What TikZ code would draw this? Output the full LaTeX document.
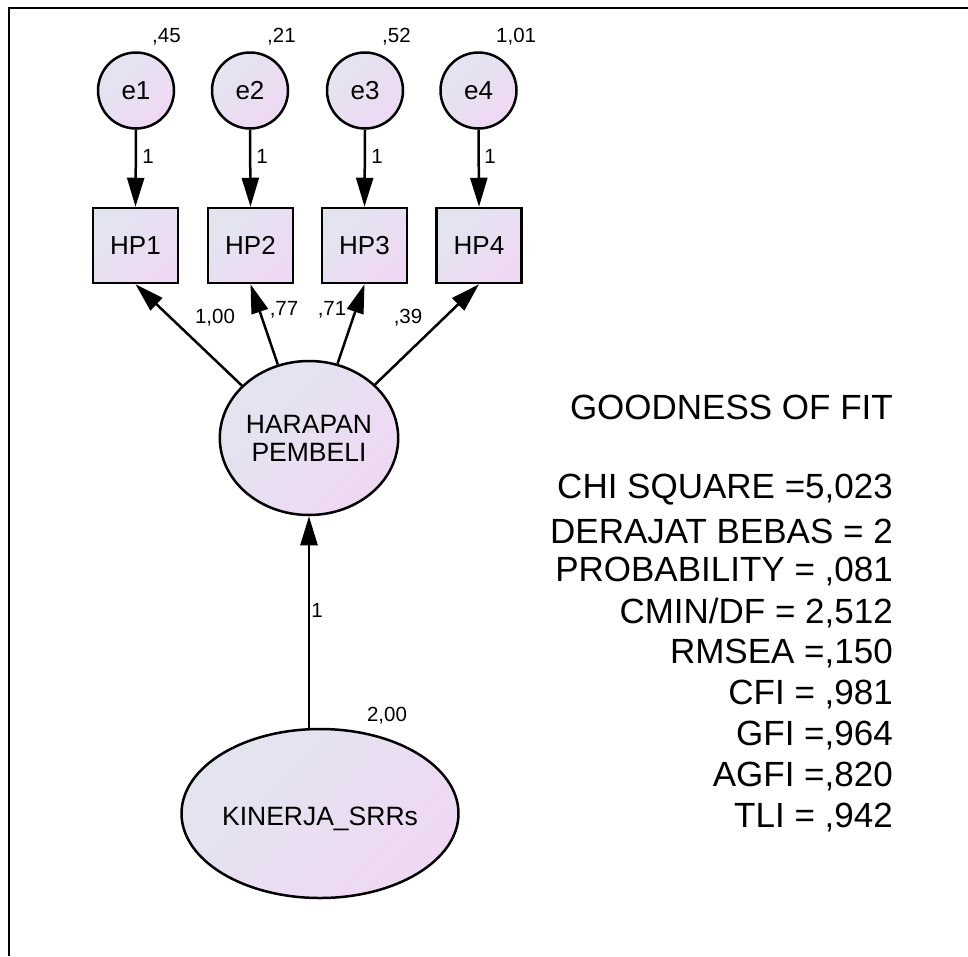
\documentclass[tikz,border=0pt]{standalone}
\usepackage{fontspec}
\setmainfont{Liberation Sans}
\usetikzlibrary{arrows.meta,shapes.geometric}
\definecolor{shadeA}{RGB}{226,229,240}
\definecolor{shadeB}{RGB}{239,216,243}
\tikzset{
  shaded/.style={top color=shadeA, bottom color=shadeB, shading angle=45, draw=black, line width=2.5pt},
  errnode/.style={shaded, circle, minimum size=76pt, inner sep=0pt, font=\fontsize{26}{30}\selectfont},
  obsnode/.style={shaded, rectangle, minimum width=85pt, minimum height=75pt, inner sep=0pt, font=\fontsize{26}{30}\selectfont},
  latnode/.style={shaded, ellipse, inner sep=0pt, font=\fontsize{26.5}{28}\selectfont, align=center},
  path/.style={line width=2.5pt, -{Triangle[length=29pt,width=17pt]}},
  small/.style={font=\fontsize{20.5}{22}\selectfont, inner sep=0pt},
  fit/.style={font=\fontsize{35}{41}\selectfont, anchor=east, inner sep=0pt},
}
\begin{document}
\begin{tikzpicture}[x=1pt,y=-1pt]
\useasboundingbox (0,0) rectangle (968,956);
% frame (top and left)
\coordinate (fTR) at (968,8);
\coordinate (fTL) at (9,8);
\coordinate (fBL) at (9,956);
\draw[line width=2pt] (fTR) -- (fTL) -- (fBL);

% error terms
\node[errnode] (e1) at (136,90.5) {e1};
\node[errnode] (e2) at (250,90.5) {e2};
\node[errnode] (e3) at (365,90.5) {e3};
\node[errnode] (e4) at (478.5,90.5) {e4};

% indicators
\node[obsnode] (hp1) at (135.5,245.5) {HP1};
\node[obsnode] (hp2) at (250.5,245.5) {HP2};
\node[obsnode] (hp3) at (364.5,245.5) {HP3};
\node[obsnode] (hp4) at (479,245.5) {HP4};

% latent variables
\node[latnode, minimum width=168pt, minimum height=154pt] (hp) at (309,438) {HARAPAN\\PEMBELI};
\node[latnode, minimum width=255pt, minimum height=169pt, text depth=0pt] (kin) at (320,813.5) {\raisebox{-5pt}{KINERJA\_SRRs}};

% error paths
\foreach \i in {1,2,3,4} {
  \draw[path] (e\i.south) -- (hp\i.north);
}
% loadings
\draw[path] (hp.142.3) -- (hp1.south);
\draw[path] (hp.113.7) -- (hp2.south);
\draw[path] (hp.69) -- (hp3.south);
\draw[path] (hp.39.6) -- (hp4.south);
% structural path
\draw[path] (hp.south |- kin.north) -- (hp.south);

% variances
\node[small, anchor=west] (v1) at (152,37) {,45};
\node[small, anchor=west] (v2) at (267,37) {,21};
\node[small, anchor=west] (v3) at (382,37) {,52};
\node[small, anchor=west] (v4) at (496,37) {1,01};
\node[small] (vk) at (387,716) {2,00};

% path labels
\node[small] (w1) at (148,156) {1};
\node[small] (w2) at (262,156) {1};
\node[small] (w3) at (377,156) {1};
\node[small] (w4) at (490,156) {1};
\node[small] (l1) at (215,318) {1,00};
\node[small] (l2) at (284,310) {,77};
\node[small] (l3) at (332,310) {,71};
\node[small] (l4) at (408,318) {,39};
\node[small] (lk) at (317,610) {1};

% goodness of fit
\node[fit] (g0) at (893,407) {GOODNESS OF FIT};
\node[fit] (g1) at (893,490) {CHI SQUARE =5,023};
\node[fit] (g2) at (893,531) {DERAJAT BEBAS = 2};
\node[fit] (g3) at (893,572) {PROBABILITY = ,081};
\node[fit] (g4) at (893,613) {CMIN/DF = 2,512};
\node[fit] (g5) at (893,654) {RMSEA =,150};
\node[fit] (g6) at (893,695) {CFI = ,981};
\node[fit] (g7) at (893,736) {GFI =,964};
\node[fit] (g8) at (893,777) {AGFI =,820};
\node[fit] (g9) at (893,818) {TLI = ,942};
\end{tikzpicture}
\end{document}
